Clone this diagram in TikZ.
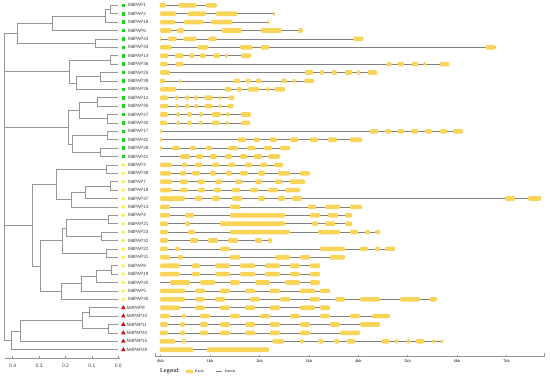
\documentclass[tikz,border=0pt]{standalone}
\usepackage{fontspec}
\setmainfont{Liberation Serif}
\setsansfont{Liberation Sans}
\usepackage{tikz}
\usetikzlibrary{positioning,shapes.geometric}

\definecolor{treegray}{RGB}{150,150,150}
\definecolor{exonyel}{RGB}{248,212,88}
\definecolor{leafgreen}{RGB}{30,210,30}
\definecolor{leafyel}{RGB}{250,240,50}
\definecolor{leafred}{RGB}{205,20,20}

\tikzset{
  branch/.style={treegray,line width=0.6pt},
  intron/.style={gray,line width=0.6pt},
  leaflab/.style={font=\sffamily\fontsize{4.6}{5.5}\selectfont,text=black!75,anchor=west,inner sep=0pt},
  gsq/.style={rectangle,fill=leafgreen,minimum size=3.6pt,inner sep=0pt},
  ydot/.style={circle,fill=leafyel,minimum size=3.8pt,inner sep=0pt},
  rtri/.style={regular polygon,regular polygon sides=3,fill=leafred,minimum size=5.4pt,inner sep=0pt},
  ticklab/.style={font=\sffamily\fontsize{5}{6}\selectfont,text=black!75,inner sep=0pt},
  kblab/.style={font=\bfseries\fontsize{4}{5}\selectfont,text=black!70,inner sep=0pt}
}

\newcommand\genestr[3]{%
  \pgfmathsetmacro\gy{5.3+(#1-1)*8.4}
  \draw[intron] (160,\gy) -- (#2,\gy);
  \foreach \a/\b in {#3}{\fill[exonyel,rounded corners=1.2pt] (\a,\gy-2.3) rectangle (\b,\gy+2.3);}
}

\begin{document}
\begin{tikzpicture}[x=1pt,y=-1pt]
  \useasboundingbox (0,0) rectangle (550,378);
  \foreach \i/\nm in {1/1,2/2,3/16,4/6,5/24,6/33,7/14,8/36,9/25,10/39,11/26,12/12,13/35,14/27,15/40,16/17,17/42,18/28,19/41}{
    \coordinate (t\i) at (118.3,{5.3+(\i-1)*8.4});
    \node[gsq] (m\i) at (123.3,{5.3+(\i-1)*8.4}) {};
    \node[leaflab,right=2.6pt of m\i] (l\i) {MdPAP\nm};}
  \foreach \i/\nm in {20/3,21/38,22/7,23/18,24/37,25/13,26/4,27/21,28/23,29/32,30/22,31/31,32/8,33/19,34/20,35/5,36/30}{
    \coordinate (t\i) at (118.3,{5.3+(\i-1)*8.4});
    \node[ydot] (m\i) at (123.3,{5.3+(\i-1)*8.4}) {};
    \node[leaflab,right=2.5pt of m\i] (l\i) {MdPAP\nm};}
  \foreach \i/\nm in {37/9,38/10,39/11,40/34,41/15,42/29}{
    \coordinate (t\i) at (118.3,{5.3+(\i-1)*8.4});
    \node[rtri] (m\i) at (123.3,{5.3+(\i-1)*8.4}) {};
    \node[leaflab,right=1.6pt of m\i] (l\i) {MdPAP\nm};}

  % tree
  \coordinate (g12) at (110,9.5);   \coordinate (g16) at (105.5,15.8);
  \coordinate (g6) at (52,23.15);   \coordinate (g24) at (95,43.1);
  \coordinate (gA) at (17,33.1);    \coordinate (g14) at (110,59.9);
  \coordinate (g25) at (100,76.7);  \coordinate (g26) at (76.7,83);
  \coordinate (gB) at (69,71.45);   \coordinate (g35) at (97,101.9);
  \coordinate (g27) at (107,118.7); \coordinate (gC1) at (79,110.3);
  \coordinate (g17) at (107,135.5); \coordinate (g28) at (100,152.3);
  \coordinate (gC2) at (72.7,143.9);\coordinate (gC) at (68.3,127.1);
  \coordinate (y3) at (106.7,169.1);  \coordinate (y7) at (110,185.9);
  \coordinate (y37) at (85,192.2);    \coordinate (y13) at (71.7,199.55);
  \coordinate (yA) at (56,184.3);     \coordinate (y4) at (108,219.5);
  \coordinate (y23) at (101.7,236.3); \coordinate (yB1) at (66.7,227.9);
  \coordinate (y22) at (106.7,253.1); \coordinate (yB2) at (62.3,240.5);
  \coordinate (y8) at (111,269.9);    \coordinate (y20) at (96.7,276.2);
  \coordinate (y5) at (81.7,283.55);  \coordinate (y30) at (61.7,291.4);
  \coordinate (yB) at (40.7,265.95);  \coordinate (yR) at (32.3,225.1);
  \coordinate (r9) at (89,311.9);     \coordinate (r11) at (108.5,328.7);
  \coordinate (rA) at (82,320.3);     \coordinate (r15) at (20.7,330.8);
  \coordinate (r29) at (11.7,340.25); \coordinate (root) at (4,186.7);
  \draw[branch] (g12) |- (t1) (g12) |- (t2) (g16) |- (g12) (g16) |- (t3)
    (g6) |- (g16) (g6) |- (t4) (g24) |- (t5) (g24) |- (t6) (gA) |- (g6) (gA) |- (g24)
    (g14) |- (t7) (g14) |- (t8) (g25) |- (t9) (g25) |- (t10) (g26) |- (g25) (g26) |- (t11)
    (gB) |- (g14) (gB) |- (g26) (g35) |- (t12) (g35) |- (t13) (g27) |- (t14) (g27) |- (t15)
    (gC1) |- (g35) (gC1) |- (g27) (g17) |- (t16) (g17) |- (t17) (g28) |- (t18) (g28) |- (t19)
    (gC2) |- (g17) (gC2) |- (g28) (gC) |- (gC1) (gC) |- (gC2);
  \draw[branch] (y3) |- (t20) (y3) |- (t21) (y7) |- (t22) (y7) |- (t23) (y37) |- (y7) (y37) |- (t24)
    (y13) |- (y37) (y13) |- (t25) (yA) |- (y3) (yA) |- (y13) (y4) |- (t26) (y4) |- (t27)
    (y23) |- (t28) (y23) |- (t29) (yB1) |- (y4) (yB1) |- (y23) (y22) |- (t30) (y22) |- (t31)
    (yB2) |- (yB1) (yB2) |- (y22) (y8) |- (t32) (y8) |- (t33) (y20) |- (y8) (y20) |- (t34)
    (y5) |- (y20) (y5) |- (t35) (y30) |- (y5) (y30) |- (t36) (yB) |- (yB2) (yB) |- (y30)
    (yR) |- (yA) (yR) |- (yB);
  \draw[branch] (r9) |- (t37) (r9) |- (t38) (r11) |- (t39) (r11) |- (t40) (rA) |- (r9) (rA) |- (r11)
    (r15) |- (rA) (r15) |- (t41) (r29) |- (r15) (r29) |- (t42);
  \draw[branch] (root) |- (gA) (root) |- (gB) (root) |- (gC) (root) |- (yR) (root) |- (r29);

  % tree scale
  \draw[branch] (5,358) -- (120,358);
  \foreach \v [count=\k from 0] in {0.4,0.3,0.2,0.1,0.0}{
    \draw[branch] ({12.7+\k*26.4},358) -- ({12.7+\k*26.4},356);
    \node[ticklab] at ({12.7+\k*26.4},365.5) {\v};}

  % gene structures
  \genestr{1}{216.7}{159.5/166, 178.3/196.7, 205.7/216.7}
  \genestr{2}{275}{160/176, 187.7/206, 216/237.3, 273.3/275}
  \genestr{3}{269.3}{160/175, 184/203.3, 211/232.7, 267.7/269.3}
  \genestr{4}{302.7}{160/171.7, 176.7/184, 221.7/241.7, 260.7/281.7, 298.3/302.7}
  \genestr{5}{363.3}{160/161, 167.7/176.7, 183.3/196.7, 208.3/216.7, 353.3/363.3}
  \genestr{6}{495.7}{160/171.7, 197.3/208.3, 240/252.7, 260.7/269, 485.7/495.7}
  \genestr{7}{251}{160/168.3, 175/183.3, 189/194.3, 200/205.7, 213.3/220, 225/227.7, 241/251}
  \genestr{8}{449.3}{160/167.7, 175.7/183.3, 386.7/391.7, 397.7/404, 411.7/418.3, 423.3/426, 440/449.3}
  \genestr{9}{377.3}{160/170, 305/313.3, 320/324.3, 331.7/336.7, 345/352.3, 356.7/360, 367.7/377.3}
  \genestr{10}{314}{160/165, 179/181, 234/240, 245.7/250.7, 256/261, 281.7/286.7, 292.7/295.7, 304.3/314}
  \genestr{11}{285}{160/176, 225/231.7, 236.7/241.7, 247.7/259.3, 266/269.3, 274.3/285}
  \genestr{12}{234.3}{160/168.3, 175/178.3, 185/189.3, 194.3/198.3, 204.3/212.7, 219/221.7, 228.3/234.3}
  \genestr{13}{233.3}{160/168.3, 175/178.3, 185/189.3, 194.3/198.3, 204.3/212.7, 219/221.7, 227.3/233.3}
  \genestr{14}{251}{160/168.3, 176.7/180, 187.3/191.7, 199/202.7, 211.7/221, 226/229.3, 241/251}
  \genestr{15}{250}{160/167.3, 176.7/180, 187.3/191.7, 199/202.7, 211.7/220, 226/228.7, 241/250}
  \genestr{16}{463}{160/162, 370/378, 385/391, 398/404, 411/418, 425/432, 440/447, 453/463}
  \genestr{17}{362}{160/162, 238/246, 254/260, 270/277, 290/298, 310/318, 328/337, 350/362}
  \genestr{18}{290}{160/162, 172/180, 190/196, 206/212, 228/238, 247/255, 264/272, 280/290}
  \genestr{19}{280}{180/190, 196/203, 210/217, 225/232, 240/247, 254/262, 268/280}
  \genestr{20}{283}{160/172, 182/187, 195/202, 212/219, 228/235, 245/252, 260/267, 274/283}
  \genestr{21}{310}{160/171, 180/186, 192/200, 210/216, 226/232, 240/248, 258/265, 278/290, 300/310}
  \genestr{22}{305}{160/172, 180/188, 198/205, 215/222, 235/242, 255/262, 275/282, 290/305}
  \genestr{23}{300}{160/172, 180/188, 198/205, 214/221, 232/240, 250/258, 268/278, 285/300}
  \genestr{24}{541}{160/185, 195/202, 212/220, 232/242, 258/265, 278/285, 292/302, 505/515, 528/541}
  \genestr{25}{362}{160/170, 230/240, 308/316, 325/340, 350/362}
  \genestr{26}{352}{160/170, 185/194, 230/285, 310/320, 328/338, 345/352}
  \genestr{27}{352}{160/168, 185/190, 220/285, 312/318, 325/335, 345/352}
  \genestr{28}{380}{160/168, 188/195, 230/290, 318/340, 350/358, 365/370, 375/380}
  \genestr{29}{272}{160/168, 190/198, 208/218, 228/238, 255/262, 268/272}
  \genestr{30}{395}{160/168, 175/180, 220/230, 320/345, 360/368, 375/380, 385/395}
  \genestr{31}{345}{160/170, 178/183, 230/240, 275/290, 300/310, 330/345}
  \genestr{32}{320}{160/180, 192/200, 215/230, 240/255, 265/280, 290/300, 310/320}
  \genestr{33}{320}{160/180, 192/200, 215/230, 240/255, 265/280, 290/300, 310/320}
  \genestr{34}{320}{170/190, 200/215, 230/240, 255/270, 285/300, 310/320}
  \genestr{35}{330}{160/185, 195/205, 220/230, 245/255, 270/280, 300/315, 320/330}
  \genestr{36}{437}{160/185, 195/205, 215/225, 250/260, 280/290, 310/320, 335/345, 360/380, 400/420, 430/437}
  \genestr{37}{330}{160/180, 195/205, 220/230, 245/255, 270/280, 300/315, 320/330}
  \genestr{38}{390}{160/170, 182/186, 200/210, 230/240, 260/270, 290/300, 320/330, 350/360, 372/390}
  \genestr{39}{380}{160/168, 180/185, 200/208, 220/230, 245/255, 270/280, 300/310, 330/340, 360/380}
  \genestr{40}{360}{160/168, 180/185, 200/208, 220/230, 245/255, 270/280, 300/310, 340/360}
  \genestr{41}{443.3}{159.5/175, 182.3/185.7, 272.3/284, 300/303.3, 318.3/323.3, 334.3/339.3, 346.7/355, 381.7/389.3, 395/398.3, 406.7/410, 416/424.3, 432.3/435, 441/443.3}
  \genestr{42}{269}{159.5/193.3, 206.7/269}

  % gene scale
  \draw[branch] (155,356.5) -- (544,356.5);
  \draw[branch] (155,356.5) -- (155,352.5) (544,356.5) -- (544,352.5);
  \foreach \k in {0,...,7}{
    \draw[branch] ({160.7+\k*49.4},356.5) -- ({160.7+\k*49.4},354.5);
    \node[kblab] at ({160.7+\k*49.4},361.5) {\k kb};}

  % legend
  \node[font=\fontsize{6}{7}\selectfont,anchor=west,inner sep=0pt] (leg) at (160,371.5) {Legend:};
  \fill[exonyel,rounded corners=1pt] (186,369.8) rectangle (193.3,373.2);
  \node[font=\fontsize{4}{5}\selectfont,anchor=west,inner sep=0pt] (ex) at (195,371.5) {Exon};
  \draw[intron] (216,371.5) -- (222,371.5);
  \node[font=\fontsize{4}{5}\selectfont,anchor=west,inner sep=0pt] (in) at (225,371.5) {Intron};
\end{tikzpicture}
\end{document}
